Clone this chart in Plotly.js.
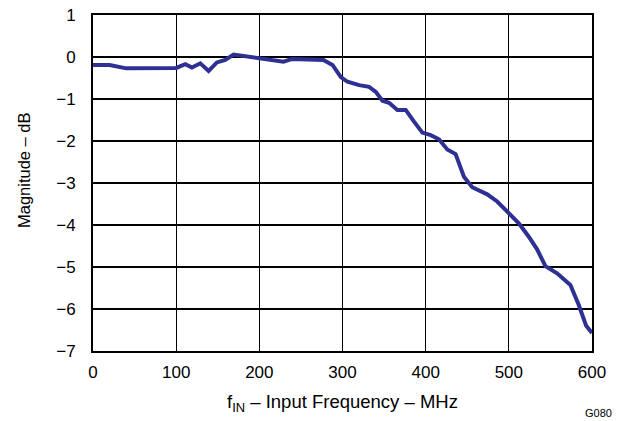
<!DOCTYPE html>
<html><head><meta charset="utf-8">
<script src="https://cdn.plot.ly/plotly-3.0.1.min.js"></script>
<style>body{margin:0;background:#fff}#c{width:623px;height:421px}</style>
</head><body><div id="c"></div>
<script>
const freqMHz = [0, 20, 40, 60, 70, 100, 111, 119, 129, 139, 149, 159, 169, 197, 229, 239, 277, 288, 298, 306, 320, 332, 340, 348, 356, 366, 376, 386, 396, 406, 416, 426, 436, 446, 456, 474, 486, 496, 512, 524, 534, 544, 558, 574, 584, 593, 600];
const magnitudeDb = [-0.19, -0.19, -0.27, -0.27, -0.25, -0.26, -0.17, -0.25, -0.15, -0.33, -0.13, -0.07, 0.06, -0.01, -0.11, -0.05, -0.07, -0.19, -0.48, -0.59, -0.67, -0.71, -0.83, -1.04, -1.09, -1.26, -1.26, -1.54, -1.80, -1.86, -1.96, -2.20, -2.31, -2.85, -3.10, -3.27, -3.44, -3.64, -3.96, -4.28, -4.58, -4.98, -5.15, -5.43, -5.90, -6.40, -6.57];
const xTicks = [0, 100, 200, 300, 400, 500, 600];
const yTicks = [1, 0, -1, -2, -3, -4, -5, -6, -7];
const yTickText = ['1', '0', '\u22121', '\u22122', '\u22123', '\u22124', '\u22125', '\u22126', '\u22127'];
const xTitle = 'f<sub>IN</sub> \u2013 Input Frequency \u2013 MHz';
const yTitle = 'Magnitude \u2013 dB';
const figureCode = 'G080';

const fam = 'Liberation Sans, Arial, sans-serif';
const font = {family: fam, size: 17, color: '#000'};
Plotly.newPlot('c', [{
  x: freqMHz, y: magnitudeDb, type: 'scatter', mode: 'lines',
  line: {color: '#2e3192', width: 4, shape: 'linear'}, hoverinfo: 'none'
}], {
  width: 623, height: 421,
  margin: {l: 93, r: 31, t: 15, b: 70},
  paper_bgcolor: '#fff', plot_bgcolor: '#fff',
  font: font, showlegend: false,
  xaxis: {range: [0, 600], tickvals: xTicks, ticktext: xTicks.map(String),
    showgrid: true, gridcolor: '#000', gridwidth: 1.2, zeroline: false,
    showline: true, linecolor: '#000', linewidth: 2, mirror: true,
    ticks: 'outside', ticklen: 5, tickcolor: 'rgba(0,0,0,0)',
    tickfont: font, automargin: false,
    title: {text: xTitle, font: {family: fam, size: 18.5, color: '#000'}, standoff: 14}},
  yaxis: {range: [-7, 1], tickvals: yTicks, ticktext: yTickText,
    showgrid: true, gridcolor: '#000', gridwidth: 1.2, zeroline: false,
    showline: true, linecolor: '#000', linewidth: 2, mirror: true,
    ticks: 'outside', ticklen: 12, tickcolor: 'rgba(0,0,0,0)',
    tickfont: font, automargin: false},
  annotations: [
    {text: yTitle, textangle: -90, xref: 'paper', yref: 'paper', x: -0.138, y: 0.539,
     xanchor: 'center', yanchor: 'middle', showarrow: false,
     font: {family: fam, size: 16.5, color: '#000'}},
    {text: figureCode, xref: 'paper', yref: 'paper', x: 1.044, y: -0.185,
     xanchor: 'right', yanchor: 'middle', showarrow: false,
     font: {family: fam, size: 11, color: '#000'}}]
}, {staticPlot: true});
</script></body></html>
